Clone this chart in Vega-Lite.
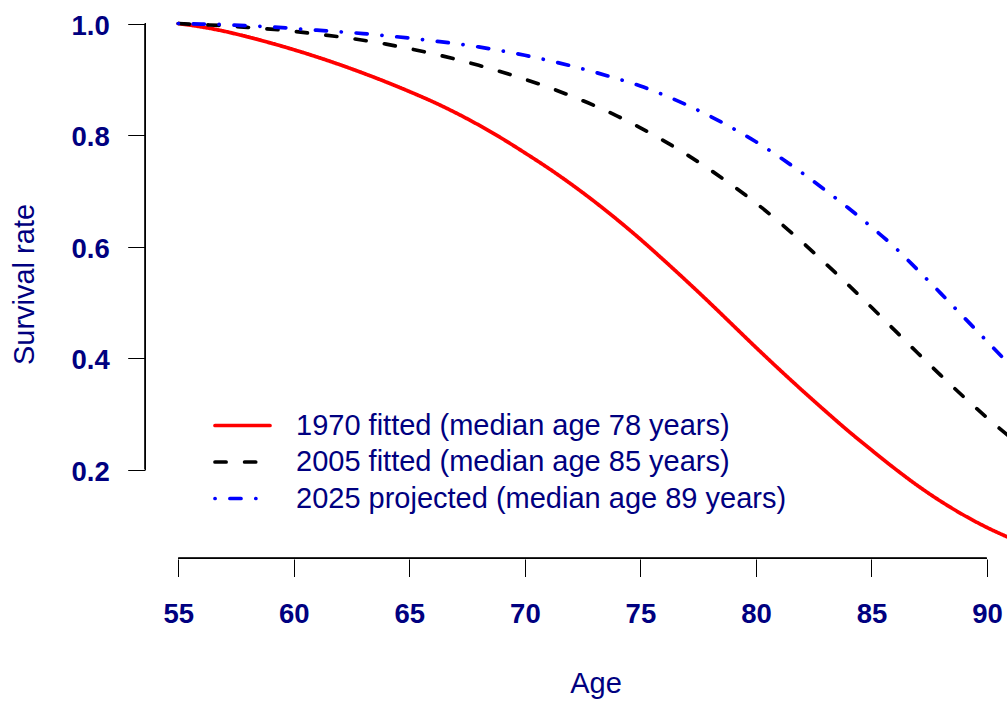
{
  "$schema": "https://vega.github.io/schema/vega-lite/v6.json",
  "autosize": {"type": "none"},
  "padding": {"left": 145, "top": 3, "right": 0, "bottom": 142},
  "width": 862,
  "height": 556,
  "background": "white",
  "config": {
    "view": {"stroke": null},
    "font": "Liberation Sans"
  },
  "data": {
    "values": [
      {"age": 55, "rate": 1.000, "series": "1970 fitted (median age 78 years)"},
      {"age": 56, "rate": 0.994, "series": "1970 fitted (median age 78 years)"},
      {"age": 57, "rate": 0.986, "series": "1970 fitted (median age 78 years)"},
      {"age": 58, "rate": 0.976, "series": "1970 fitted (median age 78 years)"},
      {"age": 59, "rate": 0.965, "series": "1970 fitted (median age 78 years)"},
      {"age": 60, "rate": 0.953, "series": "1970 fitted (median age 78 years)"},
      {"age": 61, "rate": 0.940, "series": "1970 fitted (median age 78 years)"},
      {"age": 62, "rate": 0.926, "series": "1970 fitted (median age 78 years)"},
      {"age": 63, "rate": 0.911, "series": "1970 fitted (median age 78 years)"},
      {"age": 64, "rate": 0.895, "series": "1970 fitted (median age 78 years)"},
      {"age": 65, "rate": 0.878, "series": "1970 fitted (median age 78 years)"},
      {"age": 66, "rate": 0.860, "series": "1970 fitted (median age 78 years)"},
      {"age": 67, "rate": 0.840, "series": "1970 fitted (median age 78 years)"},
      {"age": 68, "rate": 0.818, "series": "1970 fitted (median age 78 years)"},
      {"age": 69, "rate": 0.794, "series": "1970 fitted (median age 78 years)"},
      {"age": 70, "rate": 0.768, "series": "1970 fitted (median age 78 years)"},
      {"age": 71, "rate": 0.741, "series": "1970 fitted (median age 78 years)"},
      {"age": 72, "rate": 0.712, "series": "1970 fitted (median age 78 years)"},
      {"age": 73, "rate": 0.681, "series": "1970 fitted (median age 78 years)"},
      {"age": 74, "rate": 0.648, "series": "1970 fitted (median age 78 years)"},
      {"age": 75, "rate": 0.613, "series": "1970 fitted (median age 78 years)"},
      {"age": 76, "rate": 0.576, "series": "1970 fitted (median age 78 years)"},
      {"age": 77, "rate": 0.538, "series": "1970 fitted (median age 78 years)"},
      {"age": 78, "rate": 0.499, "series": "1970 fitted (median age 78 years)"},
      {"age": 79, "rate": 0.459, "series": "1970 fitted (median age 78 years)"},
      {"age": 80, "rate": 0.419, "series": "1970 fitted (median age 78 years)"},
      {"age": 81, "rate": 0.380, "series": "1970 fitted (median age 78 years)"},
      {"age": 82, "rate": 0.342, "series": "1970 fitted (median age 78 years)"},
      {"age": 83, "rate": 0.305, "series": "1970 fitted (median age 78 years)"},
      {"age": 84, "rate": 0.269, "series": "1970 fitted (median age 78 years)"},
      {"age": 85, "rate": 0.235, "series": "1970 fitted (median age 78 years)"},
      {"age": 86, "rate": 0.202, "series": "1970 fitted (median age 78 years)"},
      {"age": 87, "rate": 0.171, "series": "1970 fitted (median age 78 years)"},
      {"age": 88, "rate": 0.143, "series": "1970 fitted (median age 78 years)"},
      {"age": 89, "rate": 0.118, "series": "1970 fitted (median age 78 years)"},
      {"age": 90, "rate": 0.096, "series": "1970 fitted (median age 78 years)"},
      {"age": 91, "rate": 0.077, "series": "1970 fitted (median age 78 years)"},

      {"age": 55, "rate": 1.000, "series": "2005 fitted (median age 85 years)"},
      {"age": 56, "rate": 0.998, "series": "2005 fitted (median age 85 years)"},
      {"age": 57, "rate": 0.996, "series": "2005 fitted (median age 85 years)"},
      {"age": 58, "rate": 0.993, "series": "2005 fitted (median age 85 years)"},
      {"age": 59, "rate": 0.990, "series": "2005 fitted (median age 85 years)"},
      {"age": 60, "rate": 0.986, "series": "2005 fitted (median age 85 years)"},
      {"age": 61, "rate": 0.981, "series": "2005 fitted (median age 85 years)"},
      {"age": 62, "rate": 0.976, "series": "2005 fitted (median age 85 years)"},
      {"age": 63, "rate": 0.970, "series": "2005 fitted (median age 85 years)"},
      {"age": 64, "rate": 0.963, "series": "2005 fitted (median age 85 years)"},
      {"age": 65, "rate": 0.955, "series": "2005 fitted (median age 85 years)"},
      {"age": 66, "rate": 0.946, "series": "2005 fitted (median age 85 years)"},
      {"age": 67, "rate": 0.936, "series": "2005 fitted (median age 85 years)"},
      {"age": 68, "rate": 0.925, "series": "2005 fitted (median age 85 years)"},
      {"age": 69, "rate": 0.913, "series": "2005 fitted (median age 85 years)"},
      {"age": 70, "rate": 0.900, "series": "2005 fitted (median age 85 years)"},
      {"age": 71, "rate": 0.886, "series": "2005 fitted (median age 85 years)"},
      {"age": 72, "rate": 0.870, "series": "2005 fitted (median age 85 years)"},
      {"age": 73, "rate": 0.853, "series": "2005 fitted (median age 85 years)"},
      {"age": 74, "rate": 0.834, "series": "2005 fitted (median age 85 years)"},
      {"age": 75, "rate": 0.813, "series": "2005 fitted (median age 85 years)"},
      {"age": 76, "rate": 0.790, "series": "2005 fitted (median age 85 years)"},
      {"age": 77, "rate": 0.765, "series": "2005 fitted (median age 85 years)"},
      {"age": 78, "rate": 0.738, "series": "2005 fitted (median age 85 years)"},
      {"age": 79, "rate": 0.709, "series": "2005 fitted (median age 85 years)"},
      {"age": 80, "rate": 0.678, "series": "2005 fitted (median age 85 years)"},
      {"age": 81, "rate": 0.644, "series": "2005 fitted (median age 85 years)"},
      {"age": 82, "rate": 0.608, "series": "2005 fitted (median age 85 years)"},
      {"age": 83, "rate": 0.570, "series": "2005 fitted (median age 85 years)"},
      {"age": 84, "rate": 0.531, "series": "2005 fitted (median age 85 years)"},
      {"age": 85, "rate": 0.491, "series": "2005 fitted (median age 85 years)"},
      {"age": 86, "rate": 0.450, "series": "2005 fitted (median age 85 years)"},
      {"age": 87, "rate": 0.409, "series": "2005 fitted (median age 85 years)"},
      {"age": 88, "rate": 0.369, "series": "2005 fitted (median age 85 years)"},
      {"age": 89, "rate": 0.330, "series": "2005 fitted (median age 85 years)"},
      {"age": 90, "rate": 0.293, "series": "2005 fitted (median age 85 years)"},
      {"age": 91, "rate": 0.258, "series": "2005 fitted (median age 85 years)"},

      {"age": 55, "rate": 1.000, "series": "2025 projected (median age 89 years)"},
      {"age": 56, "rate": 0.999, "series": "2025 projected (median age 89 years)"},
      {"age": 57, "rate": 0.998, "series": "2025 projected (median age 89 years)"},
      {"age": 58, "rate": 0.996, "series": "2025 projected (median age 89 years)"},
      {"age": 59, "rate": 0.994, "series": "2025 projected (median age 89 years)"},
      {"age": 60, "rate": 0.991, "series": "2025 projected (median age 89 years)"},
      {"age": 61, "rate": 0.988, "series": "2025 projected (median age 89 years)"},
      {"age": 62, "rate": 0.985, "series": "2025 projected (median age 89 years)"},
      {"age": 63, "rate": 0.982, "series": "2025 projected (median age 89 years)"},
      {"age": 64, "rate": 0.978, "series": "2025 projected (median age 89 years)"},
      {"age": 65, "rate": 0.974, "series": "2025 projected (median age 89 years)"},
      {"age": 66, "rate": 0.969, "series": "2025 projected (median age 89 years)"},
      {"age": 67, "rate": 0.964, "series": "2025 projected (median age 89 years)"},
      {"age": 68, "rate": 0.958, "series": "2025 projected (median age 89 years)"},
      {"age": 69, "rate": 0.951, "series": "2025 projected (median age 89 years)"},
      {"age": 70, "rate": 0.943, "series": "2025 projected (median age 89 years)"},
      {"age": 71, "rate": 0.934, "series": "2025 projected (median age 89 years)"},
      {"age": 72, "rate": 0.924, "series": "2025 projected (median age 89 years)"},
      {"age": 73, "rate": 0.913, "series": "2025 projected (median age 89 years)"},
      {"age": 74, "rate": 0.901, "series": "2025 projected (median age 89 years)"},
      {"age": 75, "rate": 0.888, "series": "2025 projected (median age 89 years)"},
      {"age": 76, "rate": 0.872, "series": "2025 projected (median age 89 years)"},
      {"age": 77, "rate": 0.854, "series": "2025 projected (median age 89 years)"},
      {"age": 78, "rate": 0.834, "series": "2025 projected (median age 89 years)"},
      {"age": 79, "rate": 0.812, "series": "2025 projected (median age 89 years)"},
      {"age": 80, "rate": 0.788, "series": "2025 projected (median age 89 years)"},
      {"age": 81, "rate": 0.761, "series": "2025 projected (median age 89 years)"},
      {"age": 82, "rate": 0.732, "series": "2025 projected (median age 89 years)"},
      {"age": 83, "rate": 0.701, "series": "2025 projected (median age 89 years)"},
      {"age": 84, "rate": 0.669, "series": "2025 projected (median age 89 years)"},
      {"age": 85, "rate": 0.635, "series": "2025 projected (median age 89 years)"},
      {"age": 86, "rate": 0.599, "series": "2025 projected (median age 89 years)"},
      {"age": 87, "rate": 0.558, "series": "2025 projected (median age 89 years)"},
      {"age": 88, "rate": 0.516, "series": "2025 projected (median age 89 years)"},
      {"age": 89, "rate": 0.473, "series": "2025 projected (median age 89 years)"},
      {"age": 90, "rate": 0.430, "series": "2025 projected (median age 89 years)"},
      {"age": 91, "rate": 0.387, "series": "2025 projected (median age 89 years)"}
    ]
  },
  "layer": [
    {
      "mark": {"type": "line", "strokeWidth": 3.7, "strokeCap": "round", "interpolate": "monotone", "clip": true},
      "encoding": {
        "x": {
          "field": "age",
          "type": "quantitative",
          "scale": {"domain": [53.559, 90.866], "nice": false, "zero": false},
          "axis": {
            "values": [55, 60, 65, 70, 75, 80, 85, 90],
            "domain": false,
            "grid": false,
            "tickColor": "black",
            "tickWidth": 1,
            "tickSize": 17.5,
            "labelFont": "Liberation Sans",
            "labelFontWeight": "bold",
            "labelFontSize": 27.5,
            "labelColor": "#000080",
            "labelPadding": 23.5,
            "labelFlush": false,
            "labelOverlap": false,
            "title": "Age",
            "titleFont": "Liberation Sans",
            "titleFontWeight": "normal",
            "titleFontSize": 29,
            "titleColor": "#000080",
            "titleX": 450.5,
            "titleY": 133.5,
            "titleAlign": "center",
            "titleBaseline": "alphabetic"
          }
        },
        "y": {
          "field": "rate",
          "type": "quantitative",
          "scale": {"domain": [0.0395, 1.0368], "nice": false, "zero": false},
          "axis": {
            "values": [0.2, 0.4, 0.6, 0.8, 1.0],
            "format": ".1f",
            "domain": false,
            "grid": false,
            "tickColor": "black",
            "tickWidth": 1,
            "tickSize": 17.3,
            "labelFont": "Liberation Sans",
            "labelFontWeight": "bold",
            "labelFontSize": 27.5,
            "labelColor": "#000080",
            "labelPadding": 18.4,
            "labelOffset": 2.8,
            "labelAngle": 0,
            "labelAlign": "right",
            "labelBaseline": "middle",
            "labelOverlap": false,
            "labelFlush": false,
            "title": "Survival rate",
            "titleFont": "Liberation Sans",
            "titleFontWeight": "normal",
            "titleFontSize": 29,
            "titleColor": "#000080",
            "titleAngle": -90,
            "titleX": -111.7,
            "titleY": 281,
            "titleAlign": "center",
            "titleBaseline": "alphabetic"
          }
        },
        "color": {
          "field": "series",
          "type": "nominal",
          "scale": {
            "domain": [
              "1970 fitted (median age 78 years)",
              "2005 fitted (median age 85 years)",
              "2025 projected (median age 89 years)"
            ],
            "range": ["#FF0000", "#000000", "#0000FF"]
          },
          "legend": {
            "title": null,
            "orient": "none",
            "legendX": 83,
            "legendY": 408,
            "padding": 0,
            "symbolType": "M-2.75,0H2.75",
            "symbolSize": 400,
            "symbolStrokeWidth": 3.7,
            "symbolOffset": 0,
            "rowPadding": 6.5,
            "labelFont": "Liberation Sans",
            "labelFontSize": 29,
            "labelColor": "#000080",
            "labelOffset": 39,
            "labelLimit": 0,
            "encode": {"symbols": {"update": {"strokeCap": {"value": "round"}}}}
          }
        },
        "strokeDash": {
          "field": "series",
          "type": "nominal",
          "scale": {
            "domain": [
              "1970 fitted (median age 78 years)",
              "2005 fitted (median age 85 years)",
              "2025 projected (median age 89 years)"
            ],
            "range": [[1, 0], [11.1, 18.5], [0.1, 14.8, 11.1, 14.8]]
          },
          "legend": {
            "title": null,
            "orient": "none",
            "legendX": 83,
            "legendY": 408,
            "padding": 0,
            "symbolType": "M-2.75,0H2.75",
            "symbolSize": 400,
            "symbolStrokeWidth": 3.7,
            "symbolOffset": 0,
            "rowPadding": 6.5,
            "labelFont": "Liberation Sans",
            "labelFontSize": 29,
            "labelColor": "#000080",
            "labelOffset": 39,
            "labelLimit": 0,
            "encode": {"symbols": {"update": {"strokeCap": {"value": "round"}}}}
          }
        }
      }
    },
    {
      "mark": {"type": "rule", "color": "black", "strokeWidth": 1},
      "encoding": {
        "x": {"datum": 55},
        "x2": {"datum": 90},
        "y": {"datum": 0.0404}
      }
    },
    {
      "mark": {"type": "rule", "color": "black", "strokeWidth": 1},
      "encoding": {
        "x": {"datum": 53.58},
        "y": {"datum": 0.2},
        "y2": {"datum": 1.0}
      }
    }
  ]
}
